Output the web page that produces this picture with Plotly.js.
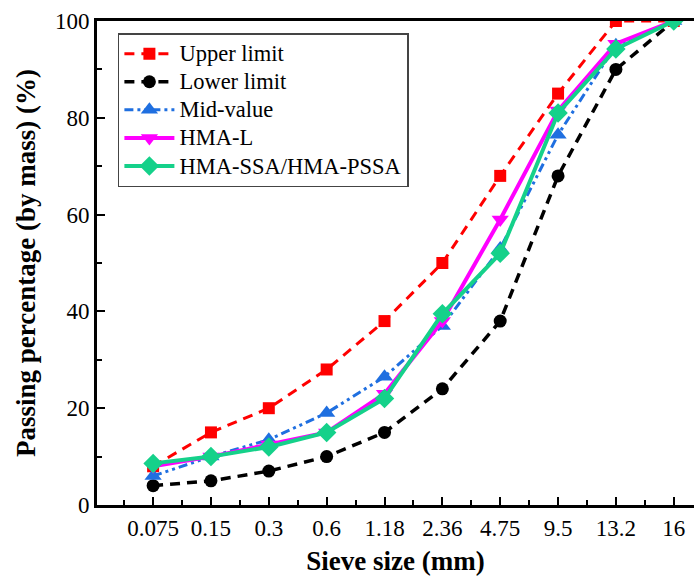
<!DOCTYPE html>
<html>
<head>
<meta charset="utf-8">
<script src="https://cdn.plot.ly/plotly-3.0.1.min.js"></script>
<style>html,body{margin:0;padding:0;background:#fff;}#chart{width:694px;height:586px;}</style>
</head>
<body>
<div id="chart"></div>
<script>
const sieveSizes = ["0.075","0.15","0.3","0.6","1.18","2.36","4.75","9.5","13.2","16"];
const seriesNames = ["Upper limit","Lower limit","Mid-value","HMA-L","HMA-SSA/HMA-PSSA"];
const upperLimit = [8, 15, 20, 28, 38, 50, 68, 85, 100, 100];
const lowerLimit = [4, 5, 7, 10, 15, 24, 38, 68, 90, 100];
const midValue   = [6, 10, 13.5, 19, 26.5, 37, 53, 76.5, 95, 100];
const hmaL       = [8, 10, 12.5, 15, 23, 38, 59, 81.5, 95.3, 100];
const hmaSSA     = [8.6, 10, 12, 15, 22, 39.5, 52, 81, 94.2, 100];

const xIdx = sieveSizes.map((_, i) => i);
const font = "Times New Roman, Liberation Serif, serif";

function tr(name, y, color, dash, width, symbol, size, grp) {
  return {
    x: xIdx, y: y, type: 'scatter', mode: 'lines+markers',
    name: '<span style="font-size:22.5px">' + name + '</span>',
    legendgroup: grp,
    line: {color: color, dash: dash, width: width},
    marker: {symbol: symbol, size: size, color: color}
  };
}

const data = [
  tr(seriesNames[0], upperLimit, '#ff0000', '10px,7px', 3, 'square', 12, 'a'),
  tr(seriesNames[1], lowerLimit, '#000000', '10px,7px', 3.5, 'circle', 13, 'b'),
  tr(seriesNames[2], midValue, '#1f6fe0', '9px,4px,3px,4px,3px,4px', 3, 'triangle-up', 15, 'c'),
  tr(seriesNames[3], hmaL, '#ff00ff', 'solid', 4, 'triangle-down', 15, 'd'),
  tr(seriesNames[4], hmaSSA, '#15d18a', 'solid', 4, 'diamond', 15, 'e')
];

const layout = {
  width: 694, height: 586,
  margin: {l: 97, r: 0, t: 21, b: 81},
  paper_bgcolor: '#fff', plot_bgcolor: '#fff',
  font: {family: font, color: '#000', size: 23},
  showlegend: true,
  legend: {
    x: 0.035, y: 0.975, xanchor: 'left', yanchor: 'top',
    bgcolor: '#fff', bordercolor: '#444', borderwidth: 1.5,
    font: {family: font, size: 19.3, color: '#000'},
    traceorder: 'grouped', tracegroupgap: 0, itemwidth: 50
  },
  xaxis: {
    range: [-0.97, 9.35],
    tickmode: 'array', tickvals: xIdx, ticktext: sieveSizes,
    ticks: 'inside', ticklen: 8, tickwidth: 2, tickcolor: '#000',
    minor: {dtick: 0.5, tick0: 0, ticks: 'inside', ticklen: 5, tickwidth: 2, tickcolor: '#000'},
    showline: true, linecolor: '#000', linewidth: 3, mirror: true,
    showgrid: false, zeroline: false,
    tickfont: {family: font, size: 23, color: '#000'},
    title: {text: '<b>Sieve size (mm)</b>', font: {family: font, size: 27, color: '#000'}, standoff: 12}
  },
  yaxis: {
    range: [0, 100],
    tickvals: [0, 20, 40, 60, 80, 100],
    ticks: 'inside', ticklen: 8, tickwidth: 2, tickcolor: '#000',
    minor: {tickvals: [10, 30, 50, 70, 90], ticks: 'inside', ticklen: 5, tickwidth: 2, tickcolor: '#000'},
    showline: true, linecolor: '#000', linewidth: 3,
    showgrid: false, zeroline: false,
    tickfont: {family: font, size: 23, color: '#000'},
    title: {text: '<b>Passing percentage (by mass) (%)</b>', font: {family: font, size: 27, color: '#000'}, standoff: 12}
  }
};

Plotly.newPlot('chart', data, layout, {displayModeBar: false, staticPlot: true});
</script>
</body>
</html>
